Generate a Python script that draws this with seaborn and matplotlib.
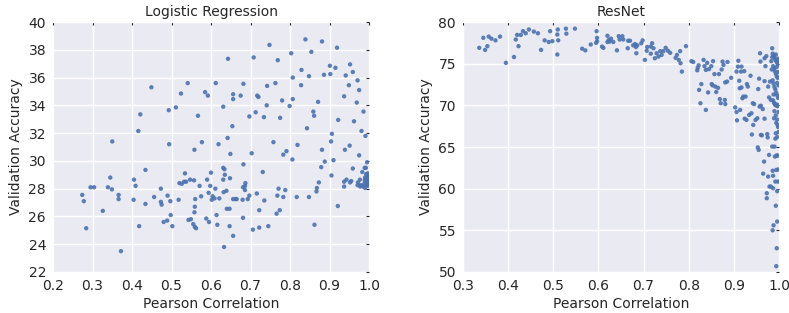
import numpy as np
import pandas as pd
import matplotlib
matplotlib.use("Agg")
import matplotlib.pyplot as plt
import seaborn as sns

# ---------------- data ----------------
lr_corr = [0.274, 0.278, 0.284, 0.295, 0.304, 0.326, 0.339, 0.345, 0.349, 0.350,
           0.366, 0.366, 0.372, 0.404, 0.405, 0.409, 0.416, 0.418, 0.421, 0.434,
           0.434, 0.449, 0.456, 0.473, 0.473, 0.475, 0.480, 0.489, 0.490, 0.493,
           0.494, 0.497, 0.498, 0.502, 0.511, 0.518, 0.520, 0.524, 0.526, 0.532,
           0.534, 0.537, 0.541, 0.543, 0.547, 0.549, 0.555, 0.557, 0.558, 0.559,
           0.558, 0.559, 0.562, 0.560, 0.567, 0.571, 0.575, 0.577, 0.585, 0.588,
           0.590, 0.592, 0.594, 0.595, 0.598, 0.600, 0.602, 0.604, 0.609, 0.611,
           0.612, 0.614, 0.616, 0.619, 0.621, 0.631, 0.631, 0.631, 0.632, 0.633,
           0.634, 0.635, 0.639, 0.640, 0.642, 0.643, 0.647, 0.647, 0.648, 0.649,
           0.654, 0.656, 0.656, 0.656, 0.656, 0.662, 0.665, 0.675, 0.680, 0.681,
           0.681, 0.682, 0.682, 0.686, 0.687, 0.686, 0.693, 0.697, 0.697, 0.703,
           0.706, 0.708, 0.713, 0.716, 0.717, 0.720, 0.722, 0.722, 0.731, 0.734,
           0.735, 0.741, 0.742, 0.745, 0.748, 0.758, 0.763, 0.766, 0.768, 0.769,
           0.771, 0.774, 0.775, 0.780, 0.783, 0.783, 0.788, 0.791, 0.799, 0.803,
           0.806, 0.807, 0.807, 0.817, 0.819, 0.828, 0.829, 0.839, 0.843, 0.848,
           0.848, 0.854, 0.859, 0.861, 0.862, 0.867, 0.868, 0.871, 0.873, 0.879,
           0.881, 0.881, 0.886, 0.888, 0.901, 0.902, 0.904, 0.906, 0.905, 0.910,
           0.915, 0.919, 0.921, 0.922, 0.937, 0.937, 0.937, 0.939, 0.941, 0.943,
           0.949, 0.951, 0.952, 0.952, 0.955, 0.959, 0.959, 0.962, 0.969, 0.971,
           0.971, 0.972, 0.975, 0.975, 0.977, 0.978, 0.979, 0.981, 0.983, 0.986,
           0.989, 0.991, 0.992, 0.995,
           0.986, 0.988, 0.989, 0.990, 0.992, 0.993, 0.994, 0.995, 0.996, 0.997,
           0.998, 0.999, 0.990, 0.992, 0.994, 0.996, 0.998, 0.999, 0.997, 0.993]
lr_acc = [27.55, 27.10, 25.15, 28.10, 28.10, 26.40, 28.10, 28.80, 27.95, 31.40,
          27.55, 27.25, 23.50, 27.20, 28.65, 28.20, 32.15, 25.30, 33.35, 26.90,
          29.35, 35.30, 27.40, 28.00, 27.05, 26.85, 25.60, 25.70, 27.50, 33.65,
          31.20, 27.10, 26.10, 25.30, 33.85, 27.20, 28.40, 34.85, 28.35, 28.50,
          29.10, 28.50, 35.60, 25.75, 28.65, 25.80, 25.45, 28.60, 30.80, 26.70,
          26.30, 25.25, 25.15, 27.25, 33.25, 28.20, 27.45, 31.35, 34.95, 25.85,
          28.65, 34.70, 27.70, 25.60, 28.20, 29.15, 27.20, 27.45, 27.30, 28.00,
          35.60, 26.10, 25.40, 31.20, 27.30, 28.65, 33.90, 29.50, 27.75, 23.80,
          29.40, 29.00, 27.85, 26.55, 31.65, 37.35, 26.55, 25.30, 28.75, 30.50,
          32.50, 34.45, 34.80, 27.25, 24.60, 27.25, 27.25, 34.70, 27.20, 28.10,
          25.90, 29.75, 35.55, 28.20, 28.40, 27.90, 27.25, 27.50, 33.20, 30.55,
          25.05, 37.45, 33.50, 27.65, 34.70, 34.60, 26.45, 25.20, 29.20, 33.15,
          27.15, 34.00, 35.40, 25.30, 38.35, 31.35, 35.60, 26.20, 27.50, 37.25,
          28.00, 26.45, 33.10, 34.35, 27.40, 30.45, 27.90, 30.70, 33.95, 37.75,
          30.10, 34.45, 36.00, 27.40, 31.15, 35.45, 36.55, 38.75, 32.35, 36.10,
          27.40, 37.85, 33.55, 33.25, 25.40, 27.80, 28.05, 34.25, 28.45, 29.55,
          30.80, 38.60, 36.20, 29.95, 36.85, 36.25, 31.40, 31.95, 28.95, 30.05,
          36.70, 38.15, 26.75, 32.95, 34.65, 28.15, 28.50, 30.80, 36.15, 28.65,
          35.45, 31.10, 36.95, 28.45, 28.55, 36.40, 29.45, 32.85, 34.20, 35.80,
          28.25, 28.45, 35.10, 30.40, 28.65, 28.15, 28.25, 32.15, 29.20, 33.55,
          29.50, 31.80, 29.50, 29.90,
          28.15, 28.35, 28.60, 28.80, 28.25, 28.50, 28.95, 28.70, 28.40, 29.10,
          28.55, 28.85, 28.05, 28.75, 28.30, 28.90, 28.20, 28.45, 28.65, 29.05]

rn_corr = [0.336, 0.345, 0.349, 0.354, 0.357, 0.363, 0.372, 0.382, 0.395, 0.413,
           0.417, 0.420, 0.423, 0.428, 0.433, 0.439, 0.446, 0.457, 0.466, 0.473,
           0.481, 0.490, 0.493, 0.498, 0.509, 0.510, 0.511, 0.509, 0.528, 0.529,
           0.548, 0.564, 0.571, 0.583, 0.595, 0.596, 0.597, 0.597, 0.608, 0.611,
           0.620, 0.620, 0.623, 0.625, 0.628, 0.633, 0.641, 0.645, 0.647, 0.653,
           0.655, 0.665, 0.666, 0.670, 0.677, 0.681, 0.683, 0.684, 0.686, 0.695,
           0.698, 0.703, 0.707, 0.708, 0.716, 0.716, 0.719, 0.722, 0.725, 0.729,
           0.733, 0.737, 0.740, 0.744, 0.749, 0.754, 0.759, 0.771, 0.774, 0.778,
           0.781, 0.782, 0.785, 0.794,
           0.806, 0.810, 0.819, 0.820, 0.822, 0.823, 0.826, 0.828, 0.833, 0.835,
           0.838, 0.838, 0.841, 0.843, 0.845, 0.850, 0.851, 0.853, 0.854, 0.857,
           0.859, 0.861, 0.865, 0.867, 0.869, 0.871, 0.873, 0.875, 0.877, 0.880,
           0.881, 0.881, 0.885, 0.886, 0.894, 0.903, 0.906, 0.907, 0.906, 0.909,
           0.910, 0.912, 0.913, 0.914, 0.916, 0.917, 0.917, 0.919, 0.921, 0.923,
           0.924, 0.926, 0.928, 0.929, 0.931, 0.934, 0.937, 0.939, 0.940, 0.942,
           0.943, 0.945, 0.948, 0.952, 0.953, 0.954, 0.955, 0.956, 0.957, 0.958,
           0.959, 0.960, 0.960, 0.962, 0.964, 0.965, 0.967, 0.968, 0.968, 0.968,
           0.970, 0.972, 0.973, 0.973, 0.974, 0.975, 0.976, 0.976, 0.978, 0.978,
           0.979, 0.980, 0.982, 0.982, 0.983, 0.985, 0.985, 0.986, 0.986, 0.987,
           0.987, 0.988, 0.989, 0.990, 0.991, 0.992, 0.993, 0.993, 0.994, 0.994,
           0.995, 0.996, 0.996, 0.996, 0.997, 0.997, 0.998,
           0.986, 0.988, 0.990, 0.992, 0.994, 0.996, 0.998, 0.987, 0.989, 0.991,
           0.993, 0.995, 0.997, 0.986, 0.988, 0.990, 0.992, 0.994, 0.996, 0.998,
           0.987, 0.989, 0.991, 0.993, 0.995, 0.997, 0.999, 0.990, 0.993, 0.996,
           0.994, 0.998, 0.985, 0.989, 0.993, 0.997, 0.999, 0.995, 0.998, 0.984,
           0.996, 0.999, 0.988, 0.999, 0.992, 0.999, 0.995, 0.998]
rn_acc = [76.90, 78.10, 76.65, 77.10, 78.25, 78.00, 77.80, 78.25, 75.10, 75.80,
          77.90, 78.45, 77.10, 78.45, 78.90, 78.65, 79.10, 78.85, 78.65, 76.65,
          77.80, 77.60, 78.90, 77.70, 78.50, 79.10, 77.80, 76.10, 79.20, 78.60,
          79.20, 76.80, 76.60, 77.30, 77.50, 78.90, 78.10, 77.70, 77.05, 76.90,
          77.60, 78.35, 77.85, 77.65, 78.00, 77.60, 76.60, 78.30, 77.90, 78.30,
          77.90, 76.85, 77.75, 77.75, 77.20, 77.35, 77.00, 76.25, 77.20, 77.45,
          77.80, 75.45, 76.55, 77.00, 76.20, 77.05, 77.45, 76.85, 75.65, 76.25,
          75.85, 76.50, 76.05, 76.50, 76.90, 76.55, 76.30, 75.70, 76.05, 75.45,
          76.50, 75.05, 74.05, 77.10,
          75.30, 75.20, 74.20, 74.50, 74.80, 71.85, 70.25, 72.55, 75.45, 74.70,
          74.25, 69.45, 75.10, 71.55, 74.35, 74.70, 72.55, 72.40, 75.30, 73.75,
          72.25, 71.60, 72.10, 73.75, 70.75, 70.25, 74.30, 75.25, 74.85, 70.65,
          70.15, 72.75, 72.85, 75.20, 73.30, 69.75, 69.20, 68.20, 74.05, 74.65,
          75.35, 72.95, 72.05, 69.45, 74.05, 74.65, 72.15, 70.85, 71.05, 74.10,
          68.40, 71.05, 68.25, 72.55, 72.25, 68.85, 73.55, 69.05, 66.50, 70.25,
          67.65, 70.15, 68.25, 68.45, 64.95, 71.95, 64.65, 73.20, 69.85, 76.25,
          75.25, 66.45, 69.95, 66.40, 69.55, 61.80, 63.25, 75.65, 72.90, 68.40,
          74.70, 75.90, 59.45, 58.85, 66.55, 66.15, 72.25, 61.45, 70.95, 64.05,
          60.25, 72.85, 70.65, 60.25, 75.30, 76.85, 65.05, 62.15, 55.00, 61.55,
          60.05, 55.60, 68.45, 65.05, 63.85, 60.85, 66.65, 57.95, 62.25, 50.70,
          52.85, 56.05, 59.70, 66.20, 67.65, 63.95, 60.85,
          76.20, 75.90, 75.70, 75.50, 75.30, 75.10, 74.90, 74.70, 74.40, 74.10,
          73.80, 73.50, 73.30, 73.00, 72.60, 72.20, 71.90, 71.50, 71.20, 70.90,
          70.60, 70.30, 70.10, 70.00, 70.10, 69.90, 70.00, 69.30, 68.80, 68.30,
          67.90, 67.40, 75.80, 76.00, 76.10, 75.60, 75.40, 74.60, 74.00, 74.30,
          72.70, 72.40, 71.30, 69.20, 66.00, 66.80, 64.00, 62.30]

panels = [
    ("Logistic Regression", lr_corr, lr_acc, (0.2, 1.0), np.arange(0.2, 1.01, 0.1), (22, 40), np.arange(22, 41, 2)),
    ("ResNet", rn_corr, rn_acc, (0.3, 1.0), np.arange(0.3, 1.01, 0.1), (50, 80), np.arange(50, 81, 5)),
]

# ---------------- style ----------------
sns.set_theme(style="darkgrid")
plt.rcParams['font.family'] = ['DejaVu Sans']

fig = plt.figure(figsize=(7.89, 3.13), dpi=100)
positions = [[0.0672, 0.131, 0.4005, 0.7987], [0.5868, 0.131, 0.4005, 0.7987]]

for pos, (title, xs, ys, xlim, xt, ylim, yt) in zip(positions, panels):
    ax = fig.add_axes(pos)
    df = pd.DataFrame({"Pearson Correlation": xs, "Validation Accuracy": ys})
    sns.scatterplot(data=df, x="Pearson Correlation", y="Validation Accuracy", ax=ax,
                    color="#4c72b0", s=10, edgecolor="none", alpha=0.9)
    ax.set_xlim(*xlim)
    ax.set_ylim(*ylim)
    ax.set_xticks(xt)
    ax.set_xticklabels([f"{v:.1f}" for v in xt])
    ax.set_yticks(yt)
    ax.set_yticklabels([f"{int(v)}" for v in yt])
    ax.set_title(title, fontsize=10, color="#262626", pad=4)
    ax.set_xlabel("Pearson Correlation", fontsize=10, color="#262626", labelpad=3)
    ax.set_ylabel("Validation Accuracy", fontsize=10, color="#262626", labelpad=4)
    ax.tick_params(axis="both", labelsize=10, colors="#262626", direction="in",
                   length=2, width=0.8, top=True, right=True)
    ax.tick_params(axis="x", pad=5)
    ax.tick_params(axis="y", pad=5)
    for sp in ax.spines.values():
        sp.set_visible(False)

fig.savefig("out.png", dpi=100)
